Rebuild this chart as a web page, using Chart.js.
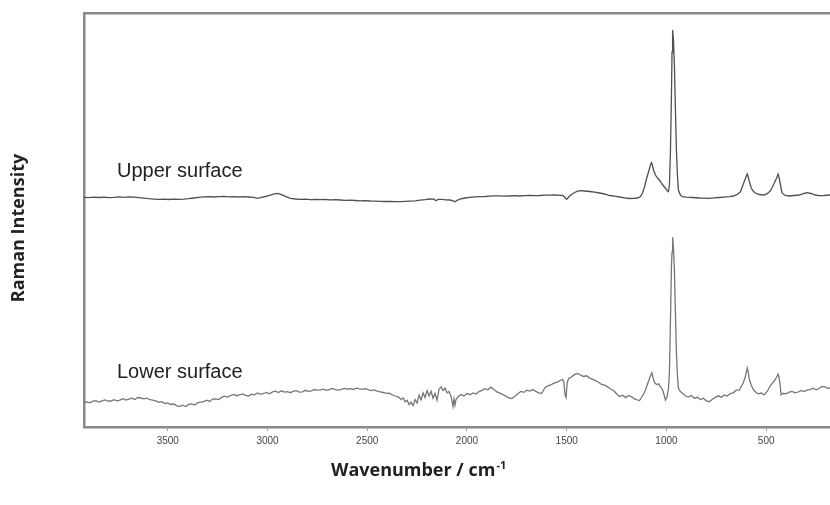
<!DOCTYPE html>
<html><head><meta charset="utf-8">
<script src="https://cdn.jsdelivr.net/npm/chart.js@4/dist/chart.umd.min.js"></script>
<style>html,body{margin:0;padding:0;background:#fff;overflow:hidden}#wrap{width:830px;height:505px;position:relative}</style>
</head><body><div id="wrap"><canvas id="c" width="830" height="505"></canvas></div>
<script>
const tickValues = [500, 1000, 1500, 2000, 2500, 3000, 3500];
const seriesLabels = ['Upper surface', 'Lower surface'];
const xTitle = 'Wavenumber / cm';
const xTitleSup = '-1';
const yTitle = 'Raman Intensity';

const upperWn = [3920,3895,3870,3845,3820,3795,3770,3745,3720,3695,3670,3645,3620,3595,3570,3545,3520,3495,3470,3445,3420,3395,3370,3345,3320,3295,3270,3245,3220,3195,3170,3145,3120,3095,3070,3050,3030,3010,2990,2970,2950,2930,2910,2885,2860,2835,2810,2785,2760,2735,2710,2685,2660,2635,2610,2585,2560,2535,2510,2485,2460,2435,2410,2385,2360,2335,2310,2285,2260,2235,2210,2185,2165,2155,2145,2125,2105,2085,2070,2060,2050,2035,2010,1985,1960,1935,1910,1885,1860,1835,1810,1785,1760,1735,1710,1685,1660,1635,1610,1585,1560,1535,1520,1510,1500,1490,1475,1460,1445,1430,1410,1385,1360,1335,1310,1285,1260,1235,1210,1185,1165,1145,1130,1120,1110,1100,1090,1080,1075,1070,1065,1055,1050,1040,1030,1020,1010,1000,995,990,985,980,975,972,970,968,965,960,955,950,945,940,930,920,900,870,835,810,785,760,735,710,685,665,645,630,620,610,600,595,590,585,575,565,555,535,510,495,480,470,460,450,440,435,430,425,420,405,385,360,335,310,295,275,255,235,210,185,180];
const upperI = [229.7,229.4,229.9,229.5,229.8,229.3,229.6,230.1,229.7,230.2,229.8,229.4,228.9,228.3,227.9,227.6,227.8,227.5,227.9,227.6,227.8,228.3,229.0,229.6,230.1,230.4,230.0,230.3,230.6,230.1,230.4,230.0,230.3,230.0,229.6,228.7,229.6,230.5,231.6,232.8,233.7,232.4,230.6,228.7,228.0,227.6,227.8,227.4,227.6,227.3,227.5,227.1,227.3,227.0,226.6,226.8,226.5,226.2,226.4,226.0,225.8,225.7,225.5,225.6,225.3,225.3,225.6,225.9,226.2,226.8,227.3,228.0,227.8,226.3,227.6,227.6,227.2,227.0,226.2,225.3,226.6,228.0,229.0,229.7,230.2,230.3,230.5,230.9,231.1,231.2,230.8,231.0,231.3,231.0,231.3,231.6,231.4,231.5,231.8,231.9,232.0,231.7,231.5,229.8,227.7,230.0,232.8,234.5,235.8,236.3,236.0,235.5,234.8,234.0,233.0,231.5,230.8,230.0,229.2,228.5,228.6,229.0,230.5,234.0,240.0,248.0,255.0,262.0,264.3,262.0,257.0,252.0,250.3,248.0,245.5,242.5,240.0,237.5,236.0,235.3,242.0,275.0,330.0,375.0,390.0,397.0,388.0,361.0,318.0,277.0,252.0,237.0,232.0,230.3,229.8,229.5,229.0,228.9,228.7,229.1,229.5,229.9,230.3,231.0,232.6,235.0,240.0,245.5,250.5,253.0,250.0,246.0,239.0,236.0,234.0,232.5,232.0,233.3,236.0,239.5,243.5,248.0,253.0,249.0,244.0,238.5,234.0,231.5,231.0,231.5,232.0,233.5,234.3,233.5,232.0,231.3,231.5,232.0,232.0];

const lowerWn = [3920,3905,3890,3875,3860,3845,3830,3815,3800,3785,3770,3755,3740,3725,3710,3695,3680,3665,3650,3635,3620,3605,3590,3575,3560,3545,3530,3515,3500,3485,3470,3455,3440,3425,3410,3395,3380,3365,3350,3335,3320,3305,3290,3275,3260,3245,3230,3215,3200,3185,3170,3155,3140,3125,3110,3095,3080,3065,3050,3035,3020,3005,2990,2975,2960,2945,2930,2915,2900,2885,2870,2855,2840,2825,2810,2795,2780,2765,2750,2735,2720,2705,2690,2675,2660,2645,2630,2615,2600,2585,2570,2555,2540,2525,2510,2495,2480,2465,2450,2435,2420,2405,2390,2375,2360,2345,2330,2320,2310,2300,2290,2280,2270,2260,2250,2240,2230,2220,2210,2200,2190,2180,2170,2160,2150,2140,2130,2120,2110,2100,2090,2080,2075,2070,2065,2060,2055,2045,2030,2015,2000,1985,1970,1955,1940,1925,1910,1895,1880,1865,1850,1835,1820,1805,1790,1775,1760,1745,1730,1715,1700,1685,1670,1655,1640,1625,1610,1595,1580,1565,1550,1535,1520,1515,1508,1503,1498,1490,1475,1460,1445,1430,1415,1400,1385,1370,1355,1340,1325,1310,1295,1280,1265,1250,1235,1220,1205,1190,1175,1160,1145,1135,1125,1115,1105,1095,1085,1078,1073,1068,1060,1050,1040,1030,1020,1010,1005,998,990,985,980,975,972,970,968,965,960,955,950,945,940,930,920,905,890,875,860,845,830,815,800,785,770,755,740,725,710,695,680,665,650,635,625,615,605,595,590,585,575,565,555,540,525,510,495,480,470,460,450,440,435,430,425,415,400,385,370,355,340,325,310,295,280,265,250,235,220,205,190,180];
const lowerI = [24.5,25.1,24.2,25.9,26.4,25.0,26.2,27.1,25.8,26.0,
27.3,26.2,26.8,28.3,27.0,27.9,28.8,27.4,29.5,29.0,
28.2,28.9,27.3,26.8,26.1,24.6,25.3,23.4,24.1,22.5,
23.0,21.2,20.6,21.9,20.4,22.6,23.1,22.0,24.3,24.9,
25.3,26.8,25.6,27.9,28.2,27.4,29.6,30.8,29.9,31.5,
32.6,31.3,32.0,33.1,31.6,31.0,32.8,32.2,34.0,32.7,
33.5,34.6,33.2,35.1,35.9,34.4,36.2,34.9,35.4,34.3,
35.8,36.4,34.8,35.2,36.7,35.6,36.1,37.5,36.8,37.2,
37.9,36.6,37.3,38.5,37.4,36.9,37.7,38.6,37.8,38.3,
37.5,38.8,38.1,37.6,38.4,37.3,36.4,37.1,35.8,35.2,
34.5,33.6,33.9,32.2,31.0,30.1,
27.5,29.0,25.2,26.8,22.4,24.9,21.3,27.5,24.0,31.8,27.2,34.0,29.5,36.4,31.0,35.8,28.7,33.6,26.9,37.8,40.2,36.5,38.9,34.2,35.6,30.8,26.0,20.5,28.0,22.0,27.5,30.2,32.5,31.1,33.6,32.3,34.1,33.0,35.4,36.6,38.3,37.2,39.8,37.6,35.1,33.8,32.4,30.9,29.2,28.5,30.8,33.2,35.5,34.6,36.8,35.9,37.5,35.6,34.2,33.7,39.0,41.2,42.0,43.8,44.5,46.3,47.5,45.0,32.0,29.5,44.0,48.5,50.2,52.6,53.5,51.8,50.5,51.2,48.9,47.6,46.3,44.8,42.5,41.8,40.1,38.0,36.5,33.2,30.6,31.8,29.4,31.5,30.2,28.1,27.0,26.4,29.5,33.0,37.0,43.0,48.5,52.0,54.3,50.0,44.5,42.5,43.2,40.5,37.5,31.0,27.0,29.5,38.0,55.0,105.0,160.0,175.0,184.0,189.7,180.0,157.0,115.0,74.0,52.0,38.7,35.5,33.7,31.2,30.0,31.5,28.8,29.7,27.5,28.8,26.2,25.3,27.8,29.6,31.2,29.8,32.1,31.0,33.4,34.2,36.8,37.0,40.5,44.0,50.0,58.7,55.0,48.0,42.0,37.5,35.3,33.2,34.0,32.0,35.5,41.0,43.7,46.0,49.0,53.0,49.0,42.0,32.0,
33.7,33.2,34.8,35.6,34.1,35.0,36.4,35.7,36.9,37.3,38.8,37.2,38.5,40.6,40.1,38.5,39.3];

const xMin = 180, xMax = 3920, yMin = 0, yMax = 414;
const frameColor = '#8a8a8a';

const toPts = (w, v) => w.map((x, i) => ({x: x, y: v[i]}));

const textPlugin = {
  id: 'textPlugin',
  afterDraw(chart) {
    const ctx = chart.ctx;
    ctx.save();
    ctx.fillStyle = '#222';
    ctx.textAlign = 'left';
    ctx.textBaseline = 'alphabetic';
    ctx.font = '20px "Liberation Sans", Arial, sans-serif';
    ctx.fillText(seriesLabels[0], 117, 177);
    ctx.fillText(seriesLabels[1], 117, 378);
    ctx.font = 'bold 18px "Open Sans", sans-serif';
    ctx.fillText(xTitle, 331, 476);
    const w = ctx.measureText(xTitle).width;
    ctx.font = 'bold 11px "Open Sans", sans-serif';
    ctx.fillText(xTitleSup, 331 + w + 1, 469);
    ctx.translate(24, 228);
    ctx.rotate(-Math.PI / 2);
    ctx.textAlign = 'center';
    ctx.font = 'bold 18px "Open Sans", sans-serif';
    ctx.fillText(yTitle, 0, 0);
    ctx.restore();
  }
};

new Chart(document.getElementById('c'), {
  type: 'line',
  data: {
    datasets: [
      {label: seriesLabels[0], data: toPts(upperWn, upperI), borderColor: '#505050', borderWidth: 1.3, pointRadius: 0, tension: 0, fill: false},
      {label: seriesLabels[1], data: toPts(lowerWn, lowerI), borderColor: '#767676', borderWidth: 1.3, pointRadius: 0, tension: 0, fill: false}
    ]
  },
  options: {
    responsive: false,
    animation: false,
    devicePixelRatio: 1,
    layout: {padding: 0},
    plugins: {legend: {display: false}, tooltip: {enabled: false}},
    scales: {
      x: {
        type: 'linear', position: 'bottom', reverse: true, min: xMin, max: xMax,
        afterFit(s) { s.height = 78; },
        afterBuildTicks(s) { s.ticks = tickValues.map(v => ({value: v})); },
        ticks: {font: {family: '"Liberation Sans", Arial, sans-serif', size: 10}, color: '#444', padding: 4, maxRotation: 0, autoSkip: false, callback: v => String(v)},
        grid: {display: true, drawOnChartArea: false, drawTicks: true, tickLength: 4, color: '#999', lineWidth: 1},
        border: {display: true, color: frameColor, width: 2.5},
        title: {display: false}
      },
      xTop: {
        type: 'linear', position: 'top', reverse: true, min: xMin, max: xMax, display: true,
        afterFit(s) { s.height = 13; },
        ticks: {display: false},
        grid: {display: false},
        border: {display: true, color: frameColor, width: 2.5}
      },
      y: {
        type: 'linear', position: 'left', min: yMin, max: yMax,
        afterFit(s) { s.width = 84; },
        ticks: {display: false},
        grid: {display: false},
        border: {display: true, color: frameColor, width: 2.5}
      }
    }
  },
  plugins: [textPlugin]
});
</script>
</body></html>
